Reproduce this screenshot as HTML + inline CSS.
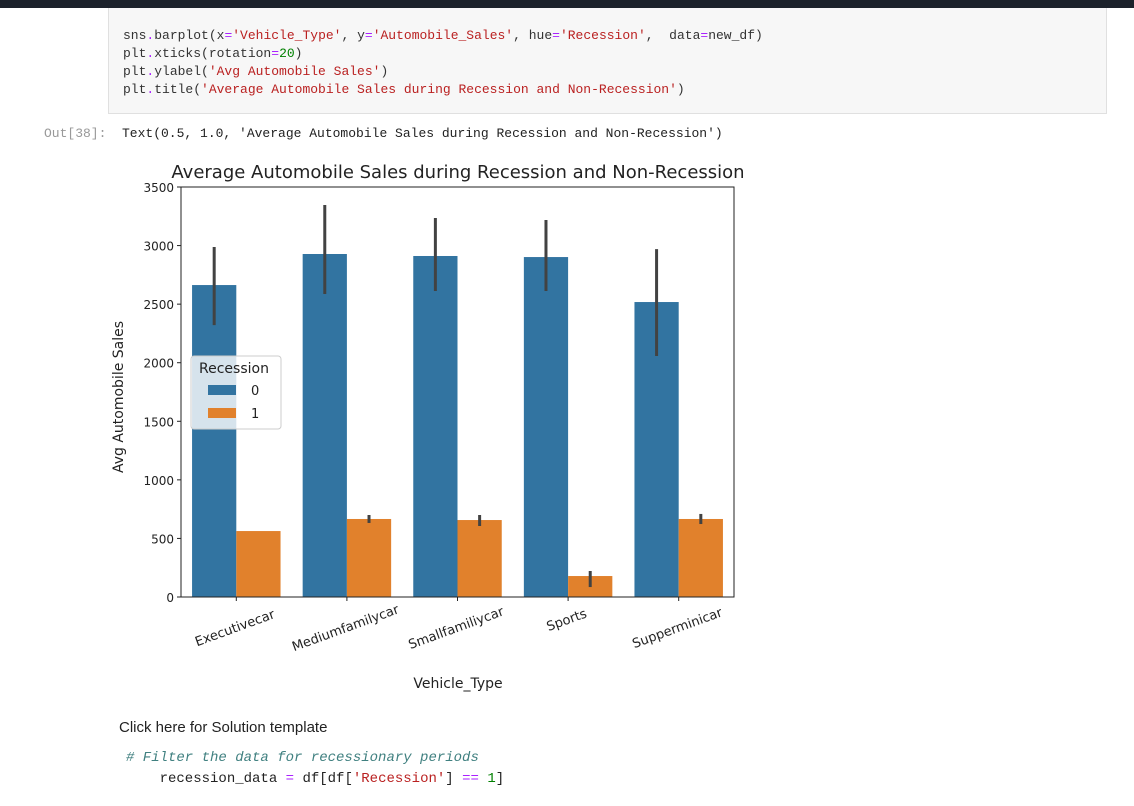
<!DOCTYPE html>
<html><head><meta charset="utf-8"><style>
body{margin:0;width:1134px;height:806px;background:#fff;position:relative;overflow:hidden;font-family:"Liberation Sans","DejaVu Sans",sans-serif}
.mono{font-family:"Liberation Mono","DejaVu Sans Mono",monospace}
#topbar{position:absolute;left:0;top:0;width:1134px;height:8px;background:#1c222b}
#cell{position:absolute;left:108px;top:8px;width:997px;height:105px;background:#f7f7f7;border:1px solid #e0e0e0;border-top:none}
#cell pre{margin:0;position:absolute;left:14px;top:19px;font-size:13px;line-height:18px;color:#333}
.s{color:#ba2121}.o{color:#aa22ff}.n{color:#008000}
#out{position:absolute;left:44px;top:126px;font-size:13px;color:#999}
#outtext{position:absolute;left:122px;top:126px;font-size:13px;color:#222}
#click{position:absolute;left:119px;top:719px;font-size:15px;color:#222}
#code2{position:absolute;left:126px;top:748px;font-size:14px;line-height:21px;margin:0;color:#222}
</style></head><body>
<div id="topbar"></div>
<div id="cell"><pre class="mono">sns<span class="o">.</span>barplot(x<span class="o">=</span><span class="s">'Vehicle_Type'</span>, y<span class="o">=</span><span class="s">'Automobile_Sales'</span>, hue<span class="o">=</span><span class="s">'Recession'</span>,  data<span class="o">=</span>new_df)
plt<span class="o">.</span>xticks(rotation<span class="o">=</span><span class="n">20</span>)
plt<span class="o">.</span>ylabel(<span class="s">'Avg Automobile Sales'</span>)
plt<span class="o">.</span>title(<span class="s">'Average Automobile Sales during Recession and Non-Recession'</span>)</pre></div>
<div id="out" class="mono">Out[38]:</div>
<div id="outtext" class="mono">Text(0.5, 1.0, 'Average Automobile Sales during Recession and Non-Recession')</div>
<svg id="chart" width="1134" height="806" style="position:absolute;left:0;top:0"></svg>
<div id="click">Click here for Solution template</div>
<pre id="code2" class="mono"><i style="color:#408080"># Filter the data for recessionary periods</i>
    recession_data <span class="o">=</span> df[df[<span class="s">'Recession'</span>] <span class="o">==</span> <span class="n">1</span>]</pre>
<script>
const categories=["Executivecar","Mediumfamilycar","Smallfamiliycar","Sports","Supperminicar"];
const series0=[2663,2928,2911,2902,2518];
const series1=[563,666,657,179,666];
const err0Lo=[2321,2587,2612,2612,2057];
const err0Hi=[2988,3346,3235,3218,2970];
const err1Lo=[563,632,606,85,623];
const err1Hi=[563,700,700,222,709];
const yTicks=[0,500,1000,1500,2000,2500,3000,3500];
const NS="http://www.w3.org/2000/svg";
const svg=document.getElementById('chart');
const L=181,R=734,T=187,B=597,YMAX=3500;
const y=v=>B-(v/YMAX)*(B-T);
const band=(R-L)/categories.length;
const xc=i=>L+band*(i+0.5);
const bw=band*0.4;
function mk(tag,attrs,parent){const e=document.createElementNS(NS,tag);for(const k in attrs)e.setAttribute(k,attrs[k]);(parent||svg).appendChild(e);return e;}
const title=mk('text',{x:458,y:178,'text-anchor':'middle','font-size':18,fill:'#222','font-family':'DejaVu Sans,sans-serif'});
title.textContent='Average Automobile Sales during Recession and Non-Recession';


[[series0,'#3274a1',-1],[series1,'#e1812c',0]].forEach(([s,c,off],si)=>{
 s.forEach((v,i)=>{
  const r=mk('rect',{x:xc(i)+off*bw,y:y(v),width:bw,height:B-y(v),fill:c});
  
  
 });
});
[[err0Lo,err0Hi,-0.5],[err1Lo,err1Hi,0.5]].forEach(([lo,hi,o])=>{
 lo.forEach((v,i)=>{
  const l=mk('line',{x1:xc(i)+o*bw,x2:xc(i)+o*bw,y1:y(v),y2:y(hi[i]),stroke:'#424242','stroke-width':3});
  
  
 });
});
mk('rect',{x:L,y:T,width:R-L,height:B-T,fill:'none',stroke:'#222','stroke-width':1});
yTicks.forEach(t=>{
 mk('line',{x1:L-4,x2:L,y1:y(t),y2:y(t),stroke:'#222'});
 const tx=mk('text',{x:L-7,y:y(t)+5,'text-anchor':'end','font-size':12,fill:'#222','font-family':'DejaVu Sans,sans-serif'});
 tx.textContent=t;
 
 
});
categories.forEach((c,i)=>{
 mk('line',{x1:xc(i),x2:xc(i),y1:B,y2:B+4,stroke:'#222'});
 const tx=mk('text',{x:0,y:0,'text-anchor':'middle','font-size':13,fill:'#222','font-family':'DejaVu Sans,sans-serif',transform:`translate(${xc(i)},${B+35 - (c.length>8?0:8)}) rotate(-20)`});
 tx.textContent=c;
 
 
});
const xl=mk('text',{x:458,y:688,'text-anchor':'middle','font-size':14,fill:'#222','font-family':'DejaVu Sans,sans-serif'});
xl.textContent='Vehicle_Type';


const yl=mk('text',{x:0,y:0,'text-anchor':'middle','font-size':14,fill:'#222','font-family':'DejaVu Sans,sans-serif',transform:'translate(123,397) rotate(-90)'});
yl.textContent='Avg Automobile Sales';


const lg=mk('g',{});


mk('rect',{x:191,y:356,width:90,height:73,rx:3,fill:'#fff','fill-opacity':0.8,stroke:'#ccc'},lg);
const lt=mk('text',{x:234,y:373,'text-anchor':'middle','font-size':14,fill:'#222','font-family':'DejaVu Sans,sans-serif'},lg);
lt.textContent='Recession';
[['#3274a1','0',390],['#e1812c','1',413]].forEach(([c,l,yy])=>{
 const e=mk('g',{},lg);
 
 
 mk('rect',{x:208,y:yy-5,width:28,height:10,fill:c},e);
 const t=mk('text',{x:251,y:yy+5,'font-size':13,fill:'#222','font-family':'DejaVu Sans,sans-serif'},e);
 t.textContent=l;
});
</script>
</body></html>
